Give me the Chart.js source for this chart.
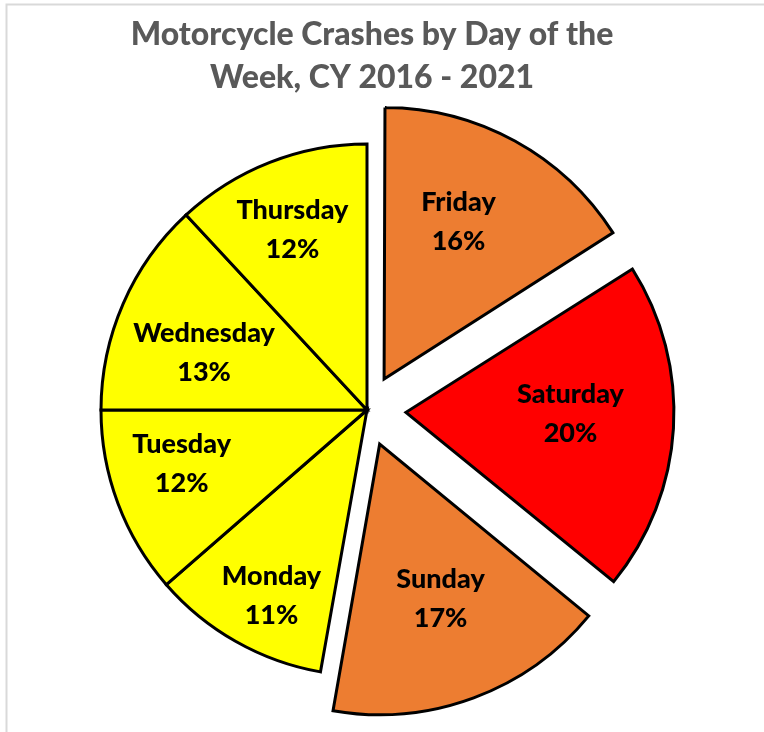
<!DOCTYPE html>
<html><head><meta charset="utf-8">
<script src="https://cdn.jsdelivr.net/npm/chart.js@4/dist/chart.umd.min.js"></script>
<style>html,body{margin:0;padding:0;background:#fff;overflow:hidden}#wrap{width:764px;height:732px;position:relative}</style>
</head><body><div id="wrap"><canvas id="c" width="764" height="732"></canvas></div>
<script>
// ---- data ----
const days = ["Friday", "Saturday", "Sunday", "Monday", "Tuesday", "Wednesday", "Thursday"];
const shares = [16.0, 19.9, 16.9, 10.8, 11.4, 13.1, 11.9];
const shareLabels = ["16%", "20%", "17%", "11%", "12%", "13%", "12%"];
const titleLines = ["Motorcycle Crashes by Day of the", "Week, CY 2016 - 2021"];

// ---- style ----
const colors = ["#ED7D31", "#FF0000", "#ED7D31", "#FFFF00", "#FFFF00", "#FFFF00", "#FFFF00"];
const exploded = [true, true, true, false, false, false, false];
const explodeShift = 41;
const labelRadius = [0.79, 0.765, 0.76, 0.785, 0.725, 0.65, 0.735];
const labelAngleNudge = [-3, -2.5, -1, -2.3, 4.5, -4, -1];
const FONT = "Lato, 'Open Sans', sans-serif";
const total = shares.reduce((a, b) => a + b, 0);

function offsetFor(ctx) {
  const i = ctx.dataIndex;
  if (!exploded[i]) return 0;
  const circ = shares[i] / total * Math.PI * 2;
  const fix = 1 - Math.sin(Math.min(Math.PI, circ));
  return explodeShift * 4 / (1 + fix);
}

const framePlugin = {
  id: 'frame',
  beforeDraw(chart) {
    const c = chart.ctx;
    c.save();
    c.fillStyle = '#fff';
    c.fillRect(0, 0, chart.width, chart.height);
    c.strokeStyle = '#d9d9d9';
    c.lineWidth = 2;
    c.beginPath();
    c.moveTo(6.5, chart.height);
    c.lineTo(6.5, 4.5);
    c.lineTo(chart.width, 4.5);
    c.stroke();
    c.restore();
  },
  afterDraw(chart) {
    const c = chart.ctx;
    c.save();
    c.fillStyle = '#595959';
    c.font = "900 32px " + FONT;
    c.textAlign = 'center';
    c.textBaseline = 'alphabetic';
    titleLines.forEach((t, k) => c.fillText(t, 372, 45 + k * 43));
    c.restore();
  }
};

const labelPlugin = {
  id: 'sliceLabels',
  afterDatasetsDraw(chart) {
    const c = chart.ctx;
    const meta = chart.getDatasetMeta(0);
    c.save();
    c.fillStyle = '#000';
    c.font = "900 27px " + FONT;
    c.textAlign = 'center';
    c.textBaseline = 'middle';
    meta.data.forEach((arc, i) => {
      const mid = (arc.startAngle + arc.endAngle) / 2 + labelAngleNudge[i] * Math.PI / 180;
      const r = arc.outerRadius * labelRadius[i];
      const x = arc.x + Math.cos(mid) * r;
      const y = arc.y + Math.sin(mid) * r;
      c.fillText(days[i], x, y - 19);
      c.fillText(shareLabels[i], x, y + 20);
    });
    c.restore();
  }
};

new Chart(document.getElementById('c'), {
  type: 'pie',
  data: {
    labels: days,
    datasets: [{
      data: shares,
      backgroundColor: colors,
      borderColor: '#000',
      borderWidth: 3,
      borderJoinStyle: 'miter',
      offset: offsetFor
    }]
  },
  options: {
    responsive: false,
    animation: false,
    events: [],
    radius: 266,
    layout: { padding: { top: 98, bottom: 10, left: 0, right: 30 } },
    plugins: {
      legend: { display: false },
      title: { display: false },
      tooltip: { enabled: false }
    }
  },
  plugins: [framePlugin, labelPlugin]
});
</script>
</body></html>
